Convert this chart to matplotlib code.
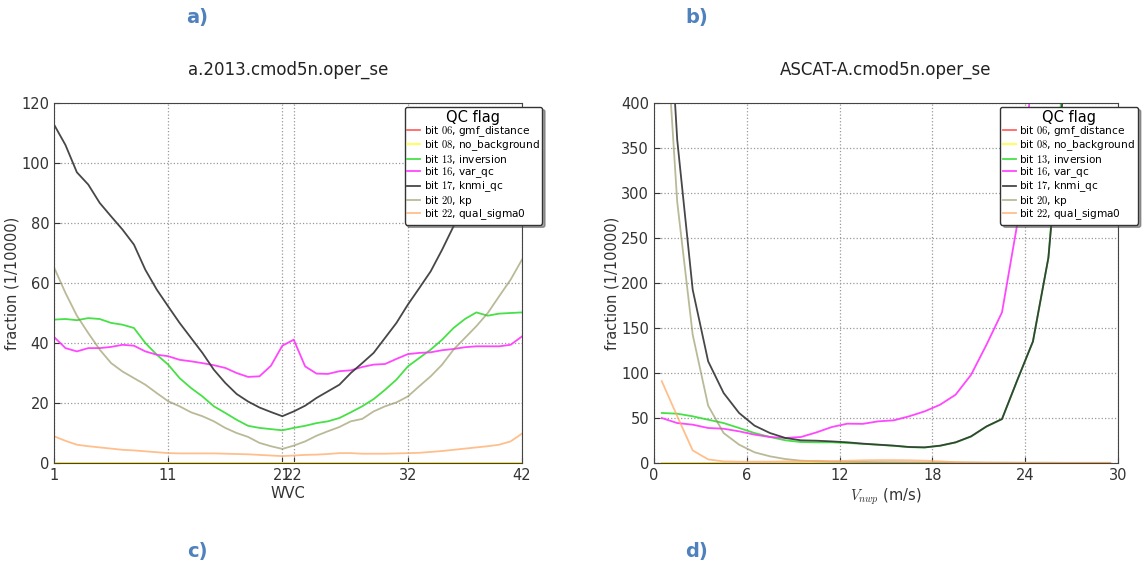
import numpy as np
import matplotlib.pyplot as plt

plt.rcParams['mathtext.fontset'] = 'cm'
plt.rcParams['font.family'] = 'DejaVu Sans'

# ---- panel a: WVC dependence ----
wvc = np.arange(1, 43)
a_gmf = np.zeros(42)
a_nobg = np.zeros(42)
a_inversion = [47.8, 48.0, 47.6, 48.3, 48.0, 46.7, 46.1, 45.0, 40.0, 36.1,
               32.8, 28.3, 25.0, 22.2, 18.9, 16.7, 14.4, 12.4, 11.7, 11.3,
               10.9, 11.7, 12.4, 13.3, 13.9, 15.0, 16.9, 18.9, 21.3, 24.4,
               27.8, 32.2, 35.0, 37.8, 41.1, 45.0, 48.0, 50.2, 49.1, 49.8,
               50.0, 50.2]
a_varqc = [42.0, 38.3, 37.2, 38.3, 38.3, 38.7, 39.4, 39.1, 37.2, 36.1,
           35.6, 34.4, 33.9, 33.3, 32.6, 31.7, 30.0, 28.7, 28.9, 32.4,
           39.1, 41.1, 32.2, 29.8, 29.7, 30.6, 30.9, 32.0, 32.8, 33.0,
           34.7, 36.3, 36.7, 36.9, 37.6, 38.0, 38.6, 38.9, 38.9, 38.9,
           39.4, 42.2]
a_knmi = [112.8, 106.0, 96.9, 92.8, 86.7, 82.2, 77.8, 72.8, 64.4, 57.8,
          52.2, 46.7, 41.7, 36.7, 31.1, 26.7, 23.0, 20.5, 18.5, 17.0,
          15.6, 17.2, 19.1, 21.7, 23.9, 26.1, 30.0, 33.3, 36.7, 41.7,
          46.7, 52.8, 58.3, 63.9, 71.1, 78.9, 86.7, 93.0, 100.0, 106.0,
          111.0, 116.0]
a_kp = [65.2, 56.7, 49.1, 43.3, 37.8, 33.3, 30.5, 28.3, 26.1, 23.3,
        20.6, 18.9, 16.9, 15.6, 13.9, 11.7, 10.0, 8.7, 6.7, 5.6,
        4.7, 5.8, 7.2, 9.1, 10.6, 12.0, 13.9, 14.7, 17.2, 18.9,
        20.2, 22.2, 25.6, 28.9, 32.8, 37.8, 41.7, 45.6, 50.0, 55.6,
        61.1, 67.8]
a_sigma0 = [8.9, 7.4, 6.1, 5.6, 5.2, 4.8, 4.4, 4.2, 3.9, 3.6,
            3.3, 3.2, 3.2, 3.2, 3.2, 3.1, 3.0, 2.9, 2.7, 2.5,
            2.3, 2.5, 2.7, 2.8, 3.0, 3.3, 3.3, 3.1, 3.1, 3.1,
            3.2, 3.3, 3.4, 3.7, 4.0, 4.4, 4.8, 5.2, 5.6, 6.1,
            7.2, 9.8]

# ---- panel b: wind speed dependence ----
vnwp = np.arange(0.5, 30, 1.0)
b_gmf = np.zeros(30)
b_nobg = np.zeros(30)
b_inversion = [55.6, 54.8, 51.9, 48.1, 44.4, 38.9, 33.3, 28.9, 25.2, 23.3,
               23.0, 23.0, 22.2, 21.3, 20.2, 19.1, 17.6, 17.2, 19.1, 22.8,
               29.4, 40.5, 48.7, 92.4, 135.0, 228.0, 440.0, 800.0, 1200.0, 1500.0]
b_varqc = [50.0, 44.4, 42.6, 38.9, 38.1, 35.2, 31.5, 28.9, 27.8, 28.9,
           34.0, 40.0, 43.7, 43.5, 46.3, 47.4, 51.9, 57.4, 64.8, 75.9,
           98.0, 131.5, 167.4, 266.7, 440.0, 700.0, 900.0, 1100.0, 1300.0, 1500.0]
b_knmi = [650.0, 359.0, 192.6, 113.0, 77.8, 55.6, 41.5, 33.3, 27.8, 25.2,
          24.8, 24.0, 23.0, 21.5, 20.4, 19.3, 17.8, 17.4, 19.3, 23.0,
          29.6, 40.7, 48.9, 92.6, 135.0, 228.0, 420.0, 800.0, 1200.0, 1500.0]
b_kp = [560.0, 290.0, 142.6, 63.7, 33.3, 20.4, 11.9, 7.4, 4.4, 2.6,
        2.0, 1.6, 1.4, 1.2, 1.0, 0.9, 0.8, 0.7, 0.6, 0.5,
        0.5, 0.4, 0.4, 0.3, 0.3, 0.3, 0.2, 0.2, 0.2, 0.2]
b_sigma0 = [91.0, 52.0, 14.0, 4.0, 1.8, 1.5, 1.5, 1.5, 1.8, 2.0,
            2.5, 2.0, 2.5, 3.0, 3.2, 3.2, 3.0, 2.6, 1.8, 1.0,
            0.6, 0.4, 0.3, 0.3, 0.2, 0.2, 0.2, 0.2, 0.2, 0.2]

labels = [r'bit $06$, gmf_distance', r'bit $08$, no_background',
          r'bit $13$, inversion', r'bit $16$, var_qc', r'bit $17$, knmi_qc',
          r'bit $20$, kp', r'bit $22$, qual_sigma0']
colors = ['#ff5555', '#ffff33', '#33dd33', '#ff33ff', '#333333', '#8c8c55', '#ffaa66']
alphas = [0.9, 0.9, 0.9, 0.9, 0.9, 0.6, 0.75]

fig = plt.figure(figsize=(11.45, 5.70), dpi=100)
ax1 = fig.add_axes([0.0472, 0.1877, 0.4087, 0.6316])
ax2 = fig.add_axes([0.5712, 0.1877, 0.4052, 0.6316])

series_a = [a_gmf, a_nobg, a_inversion, a_varqc, a_knmi, a_kp, a_sigma0]
series_b = [b_gmf, b_nobg, b_inversion, b_varqc, b_knmi, b_kp, b_sigma0]

for ax, x, series in [(ax1, wvc, series_a), (ax2, vnwp, series_b)]:
    for y, c, a, lab in zip(series, colors, alphas, labels):
        ax.plot(x, y, color=c, alpha=a, lw=1.3, label=lab)
    ax.grid(True, color='#999999', linestyle=':', linewidth=0.9)
    ax.tick_params(direction='in', labelsize=10.5, colors='#333333', length=4)
    for s in ax.spines.values():
        s.set_color('#444444')
    ax.set_ylabel('fraction (1/10000)', fontsize=10.5, color='#333333', labelpad=1)
    leg = ax.legend(loc='upper right', bbox_to_anchor=(1.05, 0.998), title='QC flag',
                    fontsize=7.6, title_fontsize=10.5, fancybox=True, shadow=True,
                    framealpha=1, edgecolor='#333333', handlelength=1.2,
                    handletextpad=0.35, labelspacing=-0.05, borderpad=0.25,
                    borderaxespad=0.3)
    leg.get_frame().set_linewidth(1.0)

ax1.set_xlim(1, 42)
ax1.set_ylim(0, 120)
ax1.set_xticks([1, 11, 21, 22, 32, 42])
ax1.set_yticks(np.arange(0, 121, 20))
ax1.set_xlabel('WVC', fontsize=10.5, color='#333333', labelpad=2)
ax1.set_title('a.2013.cmod5n.oper_se', fontsize=12, pad=20, color='#222222')

ax2.set_xlim(0, 30)
ax2.set_ylim(0, 400)
ax2.set_xticks(np.arange(0, 31, 6))
ax2.set_yticks(np.arange(0, 401, 50))
ax2.set_xlabel(r'$V_{nwp}$ (m/s)', fontsize=10.5, color='#333333', labelpad=3)
ax2.set_title('ASCAT-A.cmod5n.oper_se', fontsize=12, pad=20, color='#222222')

for txt, px, py in [('a)', 197, 18), ('b)', 697, 18), ('c)', 197, 552), ('d)', 697, 552)]:
    fig.text(px / 1145, 1 - py / 570, txt, fontsize=14, fontweight='bold',
             color='#4f81bd', ha='center', va='center')

fig.savefig('out.png', dpi=100)
